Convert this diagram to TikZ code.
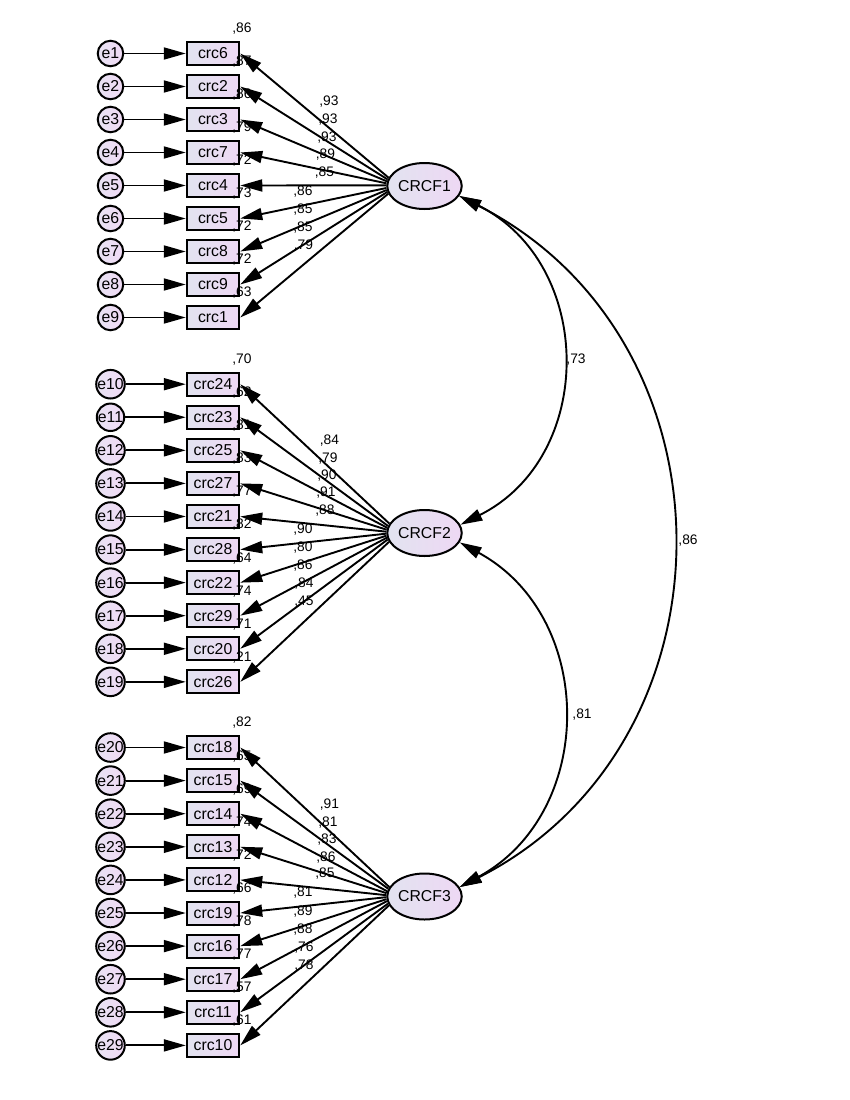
\documentclass[tikz,border=0pt]{standalone}
\usepackage{fontspec}
\setmainfont{Liberation Sans}
\usetikzlibrary{arrows.meta,shapes.geometric}
\definecolor{boxL}{RGB}{226,227,240}
\definecolor{boxR}{RGB}{238,216,244}
\definecolor{errL}{RGB}{232,226,243}
\definecolor{errR}{RGB}{240,218,245}
\tikzset{
  obs/.style={rectangle, draw=black, line width=2pt, minimum width=52.5pt, minimum height=23pt,
    inner sep=0pt, left color=boxL, right color=boxR, font=\fontsize{15.8}{16}\selectfont},
  err/.style={circle, draw=black, line width=2pt, minimum size=25.5pt, inner sep=0pt,
    left color=errL, right color=errR, font=\fontsize{15.8}{16}\selectfont},
  lat/.style={ellipse, draw=black, line width=2pt, minimum width=71pt, minimum height=46pt,
    inner sep=0pt, left color=boxL, right color=boxR, font=\fontsize{15.8}{16}\selectfont},
  lab/.style={font=\fontsize{13.8}{14}\selectfont, inner sep=0pt},
  arr/.style={-{Triangle[length=22pt,width=12pt]}, line width=1.9pt},
  cov/.style={{Triangle[length=22pt,width=12pt]}-{Triangle[length=22pt,width=12pt]}, line width=1.9pt},
}
\begin{document}
\begin{tikzpicture}[x=1pt,y=-1pt]
\fill[white] (0,0) rectangle (850,1100);
\useasboundingbox (0,0) rectangle (850,1100);

% latent factors
\node[lat] (F1) at (424.5,186) {CRCF1};
\node[lat] (F2) at (424.5,533) {CRCF2};
\node[lat] (F3) at (424.5,896.5) {CRCF3};

% group 1
\foreach \n [count=\i] in {crc6,crc2,crc3,crc7,crc4,crc5,crc8,crc9,crc1}{
  \pgfmathsetmacro\yy{53.5+33*(\i-1)}
  \node[obs] (\n) at (213,\yy) {\n};
  \node[err] (e\i) at (110.5,\yy) {e\i};
}
% group 2
\foreach \n [count=\i] in {crc24,crc23,crc25,crc27,crc21,crc28,crc22,crc29,crc20,crc26}{
  \pgfmathsetmacro\yy{384.2+33.07*(\i-1)}
  \pgfmathtruncatemacro\j{\i+9}
  \node[obs] (\n) at (213,\yy) {\n};
  \node[err] (e\j) at (110.5,\yy) {e\j};
}
% group 3
\foreach \n [count=\i] in {crc18,crc15,crc14,crc13,crc12,crc19,crc16,crc17,crc11,crc10}{
  \pgfmathsetmacro\yy{747.5+33.1*(\i-1)}
  \pgfmathtruncatemacro\j{\i+19}
  \node[obs] (\n) at (213,\yy) {\n};
  \node[err] (e\j) at (110.5,\yy) {e\j};
}

% squared multiple correlations
\foreach \v [count=\i] in {86,87,86,79,72,73,72,72,63}{
  \pgfmathsetmacro\yy{53.5+33*(\i-1)-24.5}
  \node[lab] (ra\i) at (242,\yy) {,\v};
}
\foreach \v [count=\i] in {70,62,81,83,77,82,64,74,71,21}{
  \pgfmathsetmacro\yy{384.2+33.07*(\i-1)-24.5}
  \node[lab] (rb\i) at (242,\yy) {,\v};
}
\foreach \v [count=\i] in {82,65,69,74,72,66,78,77,57,61}{
  \pgfmathsetmacro\yy{747.5+33.1*(\i-1)-24.5}
  \node[lab] (rc\i) at (242,\yy) {,\v};
}

% loadings
\foreach \x/\y/\v [count=\i] in {329/102/93,328/120/93,327/138/93,325.5/155/89,324.5/172.5/85,
    303/192/86,303/210/85,303/228/85,303.5/246/79}{
  \node[lab] (la\i) at (\x,\y) {,\v};
}
\foreach \x/\y/\v [count=\i] in {329.5/441/84,328/458.5/79,327/476/90,326/493/91,325/511/88,
    303/530/90,303/547.5/80,303/566/86,304/584/84,304/602/45}{
  \node[lab] (lb\i) at (\x,\y) {,\v};
}
\foreach \x/\y/\v [count=\i] in {329.5/805/91,328/822.5/81,327/839.5/83,326/857.5/86,325/874/85,
    303/893/81,303/912/89,303/930/88,304/948/76,304/966/78}{
  \node[lab] (lc\i) at (\x,\y) {,\v};
}

% covariance labels
\node[lab] (c12) at (576,360) {,73};
\node[lab] (c23) at (582,715) {,81};
\node[lab] (c13) at (688,541) {,86};

% group 1 arrows
\foreach \n [count=\i] in {crc6,crc2,crc3,crc7,crc4,crc5,crc8,crc9,crc1}{
  \pgfmathsetmacro\ang{180+0.095*(33*(\i-1)+53.5-186)}
  \draw[arr] (F1.\ang) -- (\n.east);
  \draw[arr] (e\i) -- (\n);
}
% group 2 arrows
\foreach \n [count=\i] in {crc24,crc23,crc25,crc27,crc21,crc28,crc22,crc29,crc20,crc26}{
  \pgfmathsetmacro\ang{180+0.095*(33.07*(\i-1)+384.2-533)}
  \pgfmathtruncatemacro\j{\i+9}
  \draw[arr] (F2.\ang) -- (\n.east);
  \draw[arr] (e\j) -- (\n);
}
% group 3 arrows
\foreach \n [count=\i] in {crc18,crc15,crc14,crc13,crc12,crc19,crc16,crc17,crc11,crc10}{
  \pgfmathsetmacro\ang{180+0.095*(33.1*(\i-1)+747.5-896.5)}
  \pgfmathtruncatemacro\j{\i+19}
  \draw[arr] (F3.\ang) -- (\n.east);
  \draw[arr] (e\j) -- (\n);
}

% covariances
\draw[cov] (F1.-16) .. controls +(136,68) and +(136,-68) .. (F2.13);
\draw[cov] (F2.-15) .. controls +(137,74.5) and +(137,-74.5) .. (F3.15);
\draw[cov] (F1.-16) .. controls +(283,144) and +(283,-144) .. (F3.15);
\end{tikzpicture}
\end{document}
